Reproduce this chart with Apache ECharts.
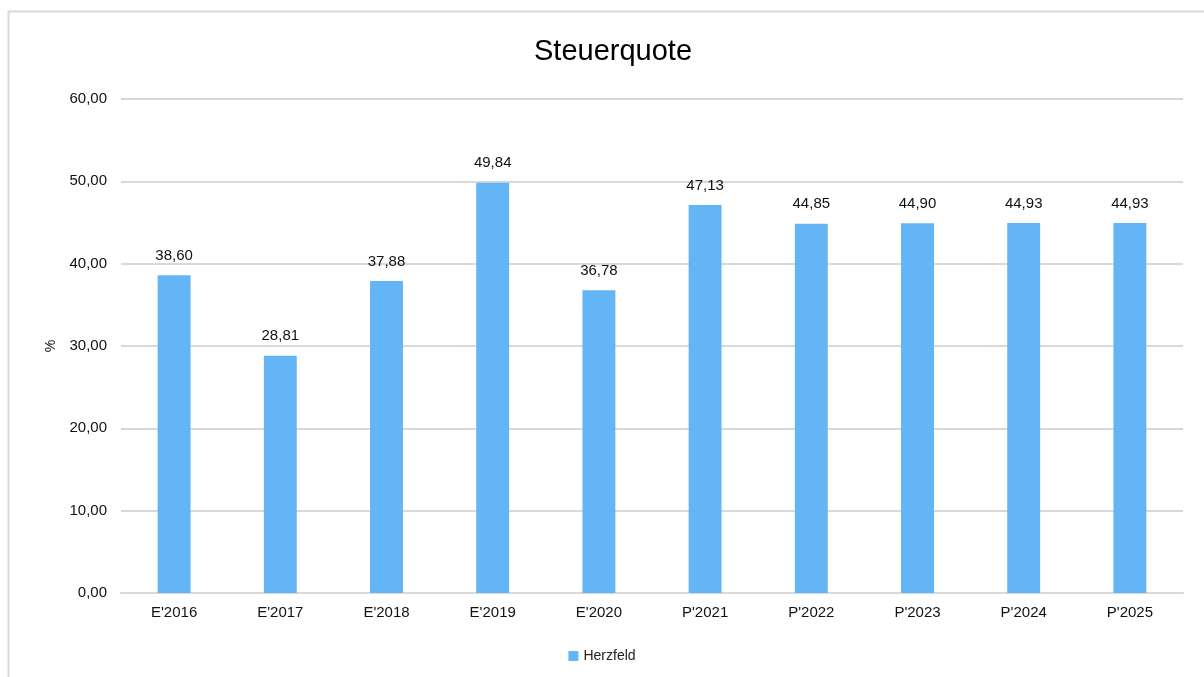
<!DOCTYPE html>
<html><head><meta charset="utf-8">
<script src="https://cdn.jsdelivr.net/npm/echarts@6/dist/echarts.min.js"></script>
<style>html,body{margin:0;padding:0;background:#fff}#c{width:1204px;height:677px}</style>
</head><body><div id="c"></div>
<script>
const categories = ["E'2016","E'2017","E'2018","E'2019","E'2020","P'2021","P'2022","P'2023","P'2024","P'2025"];
const values = [38.60, 28.81, 37.88, 49.84, 36.78, 47.13, 44.85, 44.90, 44.93, 44.93];
const seriesName = 'Herzfeld';
const fmt = v => Number(v).toFixed(2).replace('.', ',');
const chart = echarts.init(document.getElementById('c'));
chart.setOption({
  animation: false,
  textStyle: {fontFamily: 'Liberation Sans, Arial, sans-serif'},
  graphic: [{type:'rect', shape:{x:8.5,y:11.5,width:1300,height:800}, style:{fill:'none', stroke:'#d9d9d9', lineWidth:2}, z:-1}],
  title: {text:'Steuerquote', left:529, top:32, textStyle:{fontSize:29, fontWeight:'normal', color:'#000', fontFamily:'Liberation Sans, Arial, sans-serif'}},
  legend: {bottom:9, left:'center', itemWidth:10, itemHeight:10, itemGap:5, textStyle:{fontSize:14, color:'#222'}, data:[{name:seriesName, icon:'rect'}]},
  grid: {left:121, right:21, top:99, bottom:84},
  xAxis: {type:'category', data:categories, axisTick:{show:false}, axisLine:{lineStyle:{color:'#d9d9d9', width:2}}, axisLabel:{fontSize:15, color:'#111', margin:12}},
  yAxis: {type:'value', min:0, max:60, interval:10, name:'%', nameLocation:'middle', nameGap:63, nameRotate:90, nameTextStyle:{fontSize:14, color:'#111'},
    axisLabel:{fontSize:15, color:'#111', margin:14, formatter: fmt}, splitLine:{lineStyle:{color:'#d9d9d9', width:2}}, axisLine:{show:false}},
  series: [{name:seriesName, type:'bar', data:values, barWidth:'31%', itemStyle:{color:'#64B5F6'},
    label:{show:true, position:'top', distance:12, fontSize:15, color:'#111', formatter: p => fmt(p.value)}}]
});
</script></body></html>
